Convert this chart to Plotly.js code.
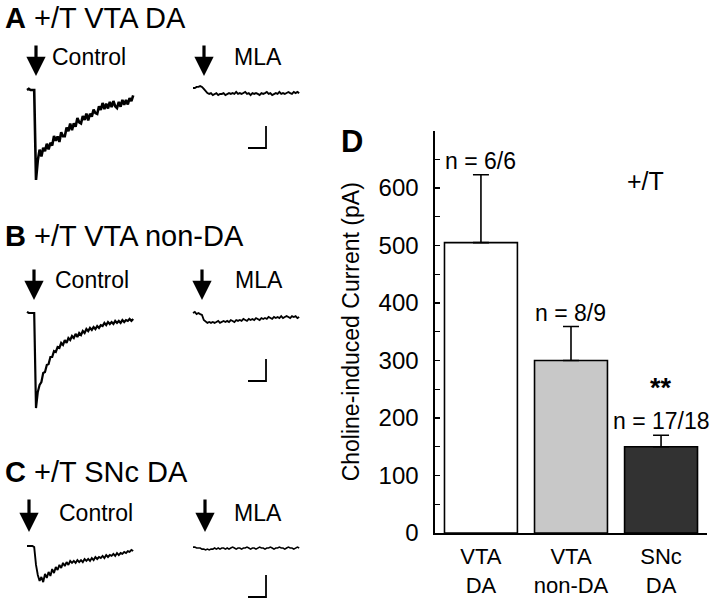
<!DOCTYPE html>
<html>
<head>
<meta charset="utf-8">
<script src="https://cdn.plot.ly/plotly-3.0.1.min.js"></script>
<style>html,body{margin:0;padding:0;background:#fff;}#chart{width:720px;height:600px;}</style>
</head>
<body>
<div id="chart"></div>
<script>
// ---- Panel D data ----
var categories = ["VTA<br>DA", "VTA<br>non-DA", "SNc<br>DA"];
var meanCurrent = [505, 300, 150];          // pA
var semCurrent = [118, 59, 20];             // pA
var nLabels = ["n = 6/6", "n = 8/9", "n = 17/18"];
var barColors = ["#ffffff", "#c8c8c8", "#323232"];
var yTickVals = [0, 50, 100, 150, 200, 250, 300, 350, 400, 450, 500, 550, 600, 650];
var yTickText = ["0", "", "100", "", "200", "", "300", "", "400", "", "500", "", "600", ""];

// ---- Panels A-C: current traces (pA relative to holding), sampled every 10 ms ----
var sampleMs = 10;
var aControl = [0, 5, 0, 0, 0, -409, -320, -271, -302, -263, -278, -244, -270, -240, -252, -209, -231, -211, -236, -192,
  -210, -210, -171, -187, -153, -182, -151, -167, -127, -147, -152, -118, -136, -107, -138, -108, -121, -89, -105, -109,
  -74, -90, -59, -87, -62, -84, -54, -78, -50, -74, -82, -54, -76, -45, -67, -45, -66, -37, -51, -24];
var aMLA = [9, 9, 14, 14, 18, 14, 5, -5, -14, -18, -14, -23, -18, -14, -23, -18, -18, -14, -23, -18,
  -14, -18, -14, -18, -9, -18, -14, -18, -14, -9, -18, -14, -23, -14, -18, -14, -18, -23, -14, -18,
  -14, -9, -18, -14, -23, -18, -14, -18, -9, -18, -14, -18, -14, -9, -14, -18, -9, -14, -9, -14];
var bControl = [5, 0, 0, 0, 0, -432, -359, -327, -314, -273, -268, -236, -232, -200, -200, -173, -177, -155, -159, -136,
  -145, -123, -136, -114, -123, -105, -114, -95, -109, -91, -100, -82, -91, -73, -82, -68, -77, -64, -73, -59,
  -68, -55, -59, -45, -55, -41, -50, -41, -50, -36, -45, -36, -45, -32, -41, -32, -36, -27, -36, -27];
var bMLA = [0, 5, -5, 0, -5, -9, -32, -41, -45, -41, -45, -41, -45, -41, -36, -45, -41, -36, -41, -36,
  -41, -32, -36, -41, -32, -36, -32, -36, -27, -32, -36, -27, -32, -27, -32, -23, -27, -32, -23, -27,
  -23, -27, -18, -23, -27, -18, -23, -18, -23, -14, -23, -18, -14, -18, -23, -14, -18, -14, -23, -18];
var cControl = [0, 0, 0, 0, -5, -86, -132, -159, -141, -164, -127, -145, -118, -136, -105, -123, -95, -109, -86, -100,
  -77, -91, -73, -86, -68, -77, -68, -77, -64, -73, -64, -73, -59, -68, -59, -68, -55, -64, -50, -59,
  -50, -55, -45, -55, -41, -50, -41, -45, -36, -45, -32, -41, -32, -36, -27, -32, -23, -27, -18, -23];
var cMLA = [-5, -5, -9, -9, -9, -14, -14, -18, -14, -18, -14, -14, -9, -14, -9, -14, -9, -9, -14, -9,
  -14, -9, -5, -9, -14, -9, -9, -14, -9, -9, -5, -9, -14, -9, -9, -14, -9, -5, -9, -9,
  -14, -9, -9, -5, -9, -14, -9, -9, -5, -9, -9, -14, -9, -5, -9, -9, -14, -9, -5, -9];
var scaleBarMs = 100, scaleBarPA = 100;

var FONT = "Liberation Sans, Arial, Helvetica, sans-serif";

function tr(y, xa, ya, w) {
  return {type: "scatter", mode: "lines", y: y, x0: 0, dx: sampleMs, xaxis: xa, yaxis: ya,
          line: {color: "#000", width: w}, hoverinfo: "skip", showlegend: false};
}

var data = [
  {type: "bar", x: categories, y: meanCurrent, width: 0.81,
   marker: {color: barColors, line: {color: "#000", width: 1.6}},
   error_y: {type: "data", symmetric: false, array: semCurrent, arrayminus: [0, 0, 0],
             color: "#000", thickness: 1.6, width: 8},
   showlegend: false, hoverinfo: "skip"},
  tr(aControl, "x2", "y2", 2.6), tr(aMLA, "x3", "y3", 1.9),
  tr(bControl, "x4", "y4", 2.2), tr(bMLA, "x5", "y5", 1.8),
  tr(cControl, "x6", "y6", 1.9), tr(cMLA, "x7", "y7", 1.6)
];

var ctrlDom = [0.030556, 0.194444], mlaDom = [0.261111, 0.425];
var tRange = [-27.8, 627.8];
var rowA = [0.68333, 0.86667], rowB = [0.31167, 0.495], rowC = [0, 0.10667];
var iRangeAB = [-454.5, 45.45], iRangeC = [-245.5, 45.45];
function hx(dom, an) { return {domain: dom, range: tRange, visible: false, anchor: an}; }
function hy(dom, rng, an) { return {domain: dom, range: rng, visible: false, anchor: an}; }

function scaleBar(xr, yr, bottom) {
  var x1 = 405.6, x0 = x1 - scaleBarMs, y0 = bottom, y1 = bottom + scaleBarPA;
  return {type: "path", xref: xr, yref: yr,
          path: "M" + x0 + "," + y0 + " L" + x1 + "," + y0 + " L" + x1 + "," + y1,
          line: {color: "#000", width: 1.8}};
}

function txt(t, x, y, size, xa, extra) {
  var a = {text: t, x: x, y: y, xref: "paper", yref: "paper", showarrow: false,
           xanchor: xa || "left", yanchor: "middle", font: {family: FONT, size: size, color: "#000"}};
  for (var k in extra) a[k] = extra[k];
  return a;
}
function arrow(xpx, tipPx, len) {
  return {x: xpx / 720, y: 1 - tipPx / 600, xref: "paper", yref: "paper", showarrow: true,
          ax: 0, ay: -len, text: "", arrowhead: 2, arrowsize: 1.2, arrowwidth: 3.2, arrowcolor: "#000"};
}

var annotations = [
  txt("<b>A</b> +/T VTA DA", 3 / 720, 1 - 18 / 600, 29),
  txt("<b>B</b> +/T VTA non-DA", 3 / 720, 1 - 236 / 600, 29),
  txt("<b>C</b> +/T SNc DA", 3 / 720, 1 - 472 / 600, 29),
  txt("Control", 50 / 720, 1 - 57 / 600, 23), txt("MLA", 232 / 720, 1 - 57 / 600, 23),
  txt("Control", 53 / 720, 1 - 280 / 600, 23), txt("MLA", 233 / 720, 1 - 280 / 600, 23),
  txt("Control", 57 / 720, 1 - 513 / 600, 23), txt("MLA", 232 / 720, 1 - 513 / 600, 23),
  arrow(36, 76, 32), arrow(204, 76, 32),
  arrow(34, 300, 32), arrow(202, 300, 32),
  arrow(29, 532, 34), arrow(205, 532, 34),
  txt("<b>D</b>", 352 / 720, 1 - 141 / 600, 31, "center"),
  txt("+/T", 645 / 720, 1 - 181 / 600, 25, "center")
];
for (var i = 0; i < categories.length; i++) {
  annotations.push({text: nLabels[i], x: categories[i], y: meanCurrent[i] + semCurrent[i], xref: "x", yref: "y",
                    showarrow: false, yanchor: "bottom", yshift: -1, font: {family: FONT, size: 23, color: "#000"}});
}
annotations.push({text: "<b>**</b>", x: categories[2], y: meanCurrent[2] + semCurrent[2], xref: "x", yref: "y",
                  showarrow: false, yanchor: "bottom", yshift: 30, font: {family: FONT, size: 27, color: "#000"}});

var layout = {
  width: 720, height: 600, margin: {l: 0, r: 0, t: 0, b: 0},
  paper_bgcolor: "#fff", plot_bgcolor: "rgba(0,0,0,0)",
  font: {family: FONT, color: "#000"},
  xaxis: {domain: [0.6042, 0.9819], range: [-0.51, 2.51], type: "category", showline: true, linewidth: 1.6,
          linecolor: "#000", ticks: "", showgrid: false, zeroline: false, tickfont: {size: 22}, anchor: "y",
          ticklabelstandoff: 3},
  yaxis: {domain: [0.11167, 0.7825], range: [0, 700], tickvals: yTickVals, ticktext: yTickText,
          ticks: "inside", ticklen: 5, tickwidth: 1.2, tickcolor: "#000", showline: true, linewidth: 1.6,
          linecolor: "#000", showgrid: false, zeroline: false, tickfont: {size: 24}, anchor: "x",
          ticklabelstandoff: 10,
          title: {text: "Choline-induced Current (pA)", font: {size: 23}, standoff: 12}},
  xaxis2: hx(ctrlDom, "y2"), yaxis2: hy(rowA, iRangeAB, "x2"),
  xaxis3: hx(mlaDom, "y3"), yaxis3: hy(rowA, iRangeAB, "x3"),
  xaxis4: hx(ctrlDom, "y4"), yaxis4: hy(rowB, iRangeAB, "x4"),
  xaxis5: hx(mlaDom, "y5"), yaxis5: hy(rowB, iRangeAB, "x5"),
  xaxis6: hx(ctrlDom, "y6"), yaxis6: hy(rowC, iRangeC, "x6"),
  xaxis7: hx(mlaDom, "y7"), yaxis7: hy(rowC, iRangeC, "x7"),
  shapes: [scaleBar("x3", "y3", -263.6), scaleBar("x5", "y5", -309), scaleBar("x7", "y7", -231.8)],
  annotations: annotations
};

Plotly.newPlot("chart", data, layout, {displayModeBar: false, staticPlot: true});
</script>
</body>
</html>
